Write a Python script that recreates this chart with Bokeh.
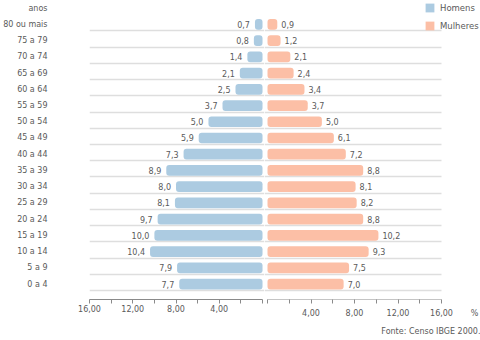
from bokeh.plotting import figure
from bokeh.layouts import row
from bokeh.models import (Range1d, FixedTicker, ColumnDataSource, Legend, LegendItem, Grid, Title)
from bokeh.core.properties import value
from bokeh.embed import file_html
from bokeh.resources import INLINE

# ---- data (bottom to top) ----
faixas = ["0 a 4", "5 a 9", "10 a 14", "15 a 19", "20 a 24", "25 a 29", "30 a 34",
          "35 a 39", "40 a 44", "45 a 49", "50 a 54", "55 a 59", "60 a 64",
          "65 a 69", "70 a 74", "75 a 79", "80 ou mais"]
homens = [7.7, 7.9, 10.4, 10.0, 9.7, 8.1, 8.0, 8.9, 7.3, 5.9, 5.0, 3.7, 2.5, 2.1, 1.4, 0.8, 0.7]
mulheres = [7.0, 7.5, 9.3, 10.2, 8.8, 8.2, 8.1, 8.8, 7.2, 6.1, 5.0, 3.7, 3.4, 2.4, 2.1, 1.2, 0.9]
x_ticks = [0, 4, 8, 12, 16]
x_minor = [2, 6, 10, 14]
eixo_y_titulo = "anos"
unidade = "%"
fonte = "Fonte: Censo IBGE 2000."

FONT = "DejaVu Sans"
TXT = "#5a5a5a"
AXC = "#8a8a8a"
BLUE = "#accbe1"
PINK = "#fcbfa6"

def fmt1(v):
    return f"{v:.1f}".replace(".", ",")

def fmt2(v):
    return f"{v:.2f}".replace(".", ",")

ypos = list(range(len(faixas)))
src = ColumnDataSource(dict(
    y=ypos, h=homens, m=mulheres,
    hl=[fmt1(v) for v in homens], ml=[fmt1(v) for v in mulheres]))

y_range = Range1d(-0.95, 17.47)
seps = [i - 0.4 for i in ypos]

def style_common(p, cross):
    p.outline_line_color = None
    p.xgrid.grid_line_color = None
    p.ygrid.ticker = FixedTicker(ticks=seps)
    p.ygrid.grid_line_color = "#dedede"
    p.ygrid.grid_line_width = 1.5
    p.ygrid.cross_bounds = cross
    p.background_fill_color = "white"
    p.border_fill_color = "white"
    ax = p.xaxis[0]
    ax.major_tick_in = 0
    ax.minor_tick_in = 0
    ax.minor_tick_out = 4
    ax.major_tick_line_color = AXC
    ax.minor_tick_line_color = AXC
    ax.major_label_text_font = FONT
    ax.major_label_text_font_size = "8px"
    ax.major_label_text_color = TXT
    return ax

# ---- left (Homens) ----
pl = figure(width=264, height=340, x_range=Range1d(16, -0.183), y_range=y_range,
            output_backend="svg", toolbar_location=None,
            min_border_left=87, min_border_right=0, min_border_top=0, min_border_bottom=39)
rh = pl.hbar(y="y", left=0, right="h", height=0.66, source=src,
             fill_color=BLUE, line_color=None, border_radius=3)
pl.text(x="h", y="y", text="hl", source=src, x_offset=-5, text_align="right",
        text_baseline="middle", text_font=value(FONT), text_font_size="8px", text_color=TXT)
axl = style_common(pl, (16, -0.183))
axl.ticker = FixedTicker(ticks=x_ticks, minor_ticks=x_minor)
axl.major_label_overrides = {t: (fmt2(t) if t != 0 else "") for t in x_ticks}
axl.bounds = (0, 16)
axl.axis_line_color = AXC
axl.major_tick_out = 4
axl.major_label_standoff = 1

yax = pl.yaxis[0]
yax.ticker = FixedTicker(ticks=ypos + [17])
ov = {i: f for i, f in zip(ypos, faixas)}
ov[17] = eixo_y_titulo
yax.major_label_overrides = ov
yax.axis_line_color = None
yax.major_tick_line_color = None
yax.minor_tick_line_color = None
yax.major_tick_out = 0
yax.major_label_standoff = 42
yax.major_label_text_font = FONT
yax.major_label_text_font_size = "8px"
yax.major_label_text_color = TXT

# ---- right (Mulheres) ----
pr = figure(width=216, height=340, x_range=Range1d(-0.276, 19.586), y_range=y_range,
            output_backend="svg", toolbar_location=None, y_axis_location=None,
            min_border_left=0, min_border_right=0, min_border_top=0, min_border_bottom=39)
rm = pr.hbar(y="y", left=0, right="m", height=0.66, source=src,
             fill_color=PINK, line_color=None, border_radius=3)
# legend proxy for the Homens series (zero-height bars: nothing visible in this half)
rh_proxy = pr.hbar(y="y", left=0, right="h", height=0, source=src,
                   fill_color=BLUE, line_color=None)
pr.text(x="m", y="y", text="ml", source=src, x_offset=4, text_align="left",
        text_baseline="middle", text_font=value(FONT), text_font_size="8px", text_color=TXT)
axr = style_common(pr, (-0.276, 16))
pos_unidade = 19.03
axr.ticker = FixedTicker(ticks=[4, 8, 12, 16, pos_unidade], minor_ticks=x_ticks + x_minor)
ovr = {t: fmt2(t) for t in [4, 8, 12, 16]}
ovr[pos_unidade] = unidade
axr.major_label_overrides = ovr
axr.bounds = (0, 19.5)
axr.axis_line_color = None
axr.major_tick_out = 0
axr.major_label_standoff = 5

# axis line of the right half, limited to 0..16
pr.add_layout(Grid(dimension=1, ticker=FixedTicker(ticks=[-0.93]), cross_bounds=(0, 16),
                   grid_line_color=AXC, grid_line_width=1))

pr.add_layout(Title(text=fonte, align="right", text_font=FONT, text_font_size="8px",
                    text_font_style="normal", text_color=TXT, standoff=9), "below")

legend = Legend(items=[LegendItem(label="Homens", renderers=[rh_proxy]),
                       LegendItem(label="Mulheres", renderers=[rm])],
                location=(160, 268), orientation="vertical",
                glyph_width=11, glyph_height=11, label_height=11, label_standoff=5,
                spacing=7, padding=0, margin=0, border_line_color=None,
                background_fill_alpha=0,
                label_text_font=FONT, label_text_font_size="8.5px", label_text_color=TXT)
pr.add_layout(legend, "center")

layout = row(pl, pr, spacing=0)
open("out.html", "w").write(file_html(layout, INLINE))
